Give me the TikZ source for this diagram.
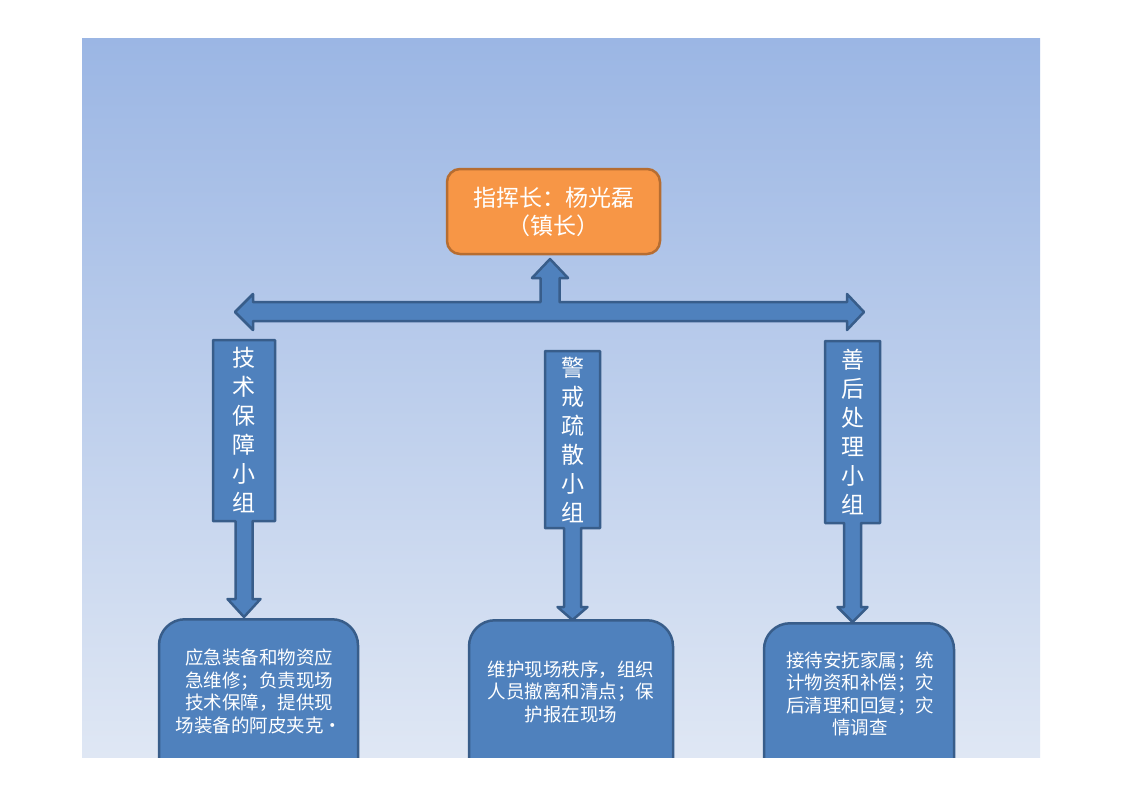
\documentclass[tikz,border=0pt]{standalone}
\usepackage{fontspec}
\setmainfont{Noto Sans CJK SC}
\definecolor{bgtop}{RGB}{155,182,228}
\definecolor{bgbot}{RGB}{223,231,244}
\definecolor{boxblue}{RGB}{79,129,189}
\definecolor{boxedge}{RGB}{56,93,138}
\definecolor{chieffill}{RGB}{247,150,70}
\definecolor{chiefedge}{RGB}{182,109,49}
\begin{document}
\begin{tikzpicture}[x=1pt,y=-1pt,
  bluefill/.style={fill=boxblue,draw=boxedge,line width=2.5pt,line join=round},
  chief/.style={fill=chieffill,draw=chiefedge,line width=2.5pt,rounded corners=13pt,
    text=white,align=center,font=\fontsize{23}{28}\selectfont},
  detail/.style={fill=boxblue,draw=boxedge,line width=2.5pt,rounded corners=26pt},
  coltext/.style={text=white,align=center,inner sep=0pt,font=\fontsize{23}{29}\selectfont},
  dettext/.style={text=white,align=center,inner sep=0pt,font=\fontsize{18.5}{22.5}\selectfont}]
\useasboundingbox (0,0) rectangle (1122,793);
\fill[white] (0,0) rectangle (1122,793);
\shade[top color=bgtop,bottom color=bgbot] (82,38) rectangle (1040,757);

% chief box
\node[chief,minimum width=213pt,minimum height=85pt] (chief) at (553.5,211.5)
  {指挥长：杨光磊\\（镇长）};

% left-right-up block arrow
\draw[bluefill] (235,312) -- (253,294) -- (253,302) -- (540.5,302) -- (540.5,278)
  -- (532,278) -- (550,259) -- (568,278) -- (559.5,278) -- (559.5,302)
  -- (847,302) -- (847,294) -- (864,312) -- (847,330) -- (847,321)
  -- (253,321) -- (253,330) -- cycle;

% callouts
\draw[bluefill] (213,340) -- (275,340) -- (275,521) -- (252.5,521) -- (252.5,599)
  -- (260.5,599) -- (244,617) -- (227.5,599) -- (235.5,599) -- (235.5,521)
  -- (213,521) -- cycle;
\draw[bluefill] (545,351) -- (600,351) -- (600,528) -- (581,528) -- (581,607)
  -- (587.5,607) -- (572.5,620) -- (557.5,607) -- (564,607) -- (564,528)
  -- (545,528) -- cycle;
\draw[bluefill] (825,341) -- (880,341) -- (880,523) -- (861,523) -- (861,607)
  -- (867.5,607) -- (852.5,622) -- (837.5,607) -- (844,607) -- (844,523)
  -- (825,523) -- cycle;

\node[coltext] (g1) at (244,430) {技\\术\\保\\障\\小\\组};
\node[coltext] (g2) at (572.5,439.5) {警\\戒\\疏\\散\\小\\组};
\node[coltext] (g3) at (852.5,431.5) {善\\后\\处\\理\\小\\组};

% detail boxes (clipped by background)
\begin{scope}
\clip (82,38) rectangle (1040,757);
\node[detail,minimum width=199pt,minimum height=170pt,anchor=north] (d1) at (258.5,618) {};
\node[detail,minimum width=204pt,minimum height=170pt,anchor=north] (d2) at (571,619) {};
\node[detail,minimum width=190pt,minimum height=170pt,anchor=north] (d3) at (859,622) {};
\end{scope}

\node[dettext] (t1) at (259,691.5) {应急装备和物资应\\急维修；负责现场\\技术保障，提供现\\场装备的阿皮夹克·};
\node[dettext] (t2) at (571,691.5) {维护现场秩序，组织\\人员撤离和清点；保\\护报在现场};
\node[dettext] (t3) at (860,694) {接待安抚家属；统\\计物资和补偿；灾\\后清理和回复；灾\\情调查};
\end{tikzpicture}
\end{document}
